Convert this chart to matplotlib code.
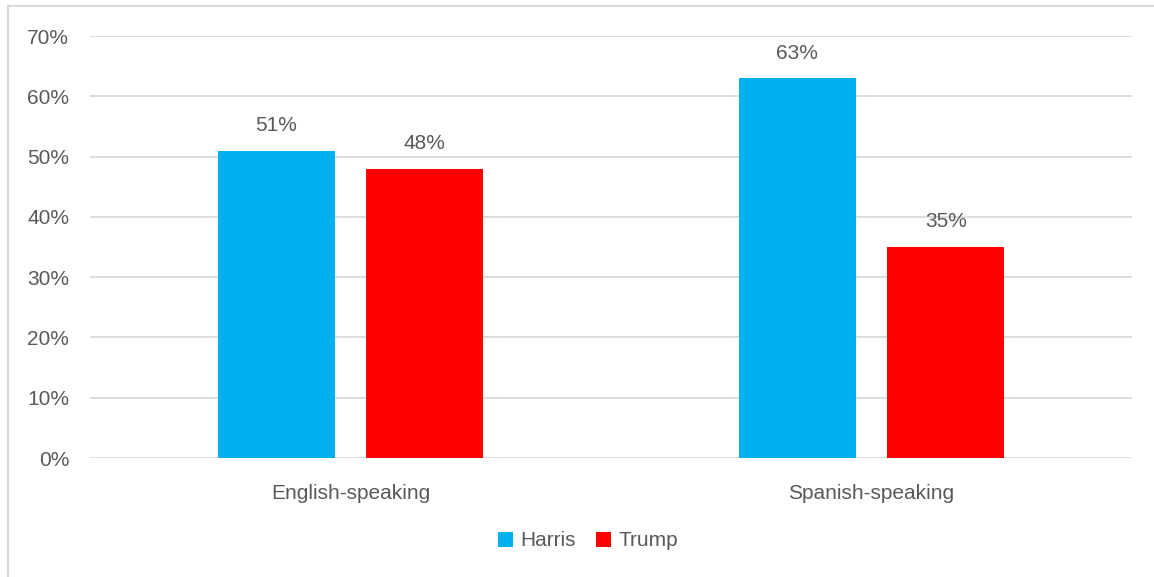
import numpy as np
import matplotlib.pyplot as plt
from matplotlib.patches import Rectangle
from matplotlib.ticker import PercentFormatter

# vote share by language group
groups = ["English-speaking", "Spanish-speaking"]
harris = [51, 63]
trump = [48, 35]
yticks = [0, 10, 20, 30, 40, 50, 60, 70]

txt = "#595959"
fs = 15
plt.rcParams['font.family'] = ['Liberation Sans', 'DejaVu Sans']

fig = plt.figure(figsize=(11.54, 5.77), dpi=100)
ax = fig.add_axes([90 / 1154, 1 - 458 / 577, 1042 / 1154, 422 / 577])

# light frame round the chart area
fig.patches.append(Rectangle((8 / 1154, -0.1), 1.2, 1 - 6 / 577 + 0.1,
                             transform=fig.transFigure, fill=False,
                             edgecolor="#d9d9d9", linewidth=1.5))

x = np.arange(len(groups))
w = 0.2245
off = 0.1425
b1 = ax.bar(x - off, harris, w, color="#00b0f0", label="Harris", zorder=3)
b2 = ax.bar(x + off, trump, w, color="#ff0000", label="Trump", zorder=3)

for bars, vals in ((b1, harris), (b2, trump)):
    for bar, v in zip(bars, vals):
        ax.text(bar.get_x() + bar.get_width() / 2, v + 2.6, f"{v}%",
                ha="center", va="bottom", fontsize=fs, color=txt)

ax.set_xlim(-0.5, 1.5)
ax.set_ylim(0, 70)
ax.set_yticks(yticks)
ax.yaxis.set_major_formatter(PercentFormatter(decimals=0))
ax.set_xticks(x)
ax.set_xticklabels(groups)
ax.grid(axis="y", color="#d9d9d9", linewidth=1.3, zorder=0)
for s in ax.spines.values():
    s.set_visible(False)
ax.tick_params(length=0, labelsize=fs, labelcolor=txt)
ax.tick_params(axis="y", pad=15)
ax.tick_params(axis="x", pad=19)

ax.legend(loc="center", bbox_to_anchor=(588 / 1154, 1 - 541 / 577),
          bbox_transform=fig.transFigure, ncol=2, frameon=False,
          fontsize=fs, labelcolor=txt, handlelength=0.7, handleheight=0.7,
          handletextpad=0.35, columnspacing=1.0)

fig.savefig("out.png", dpi=100)
